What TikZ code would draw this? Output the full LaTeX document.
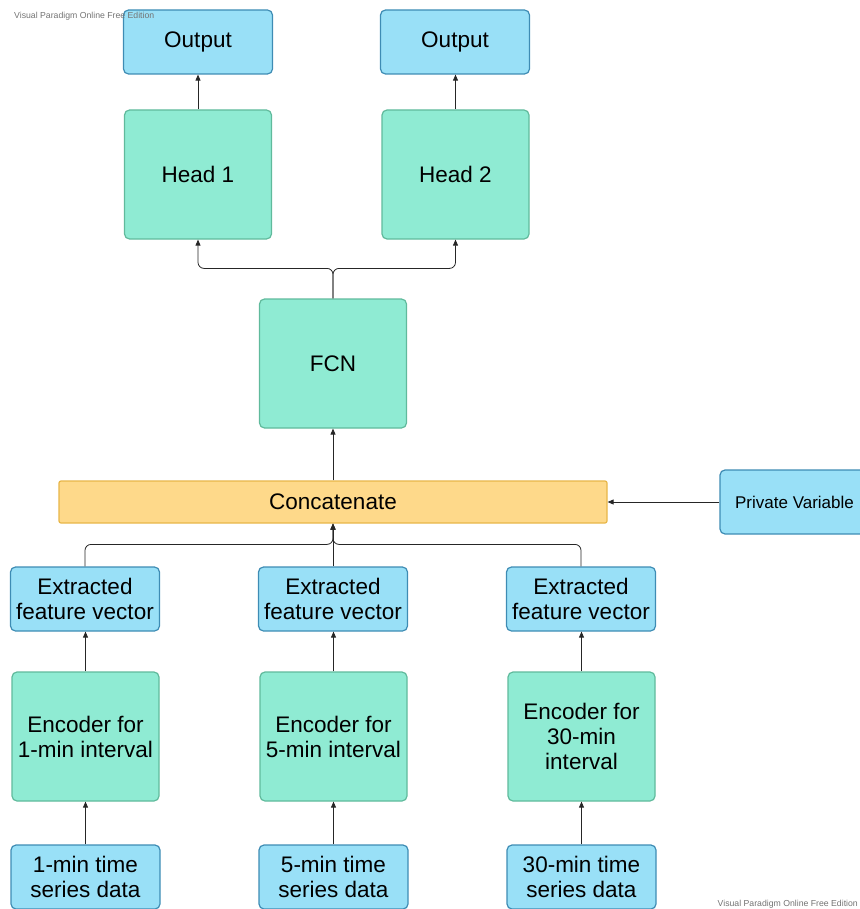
\documentclass[tikz,border=0pt]{standalone}
\usepackage{fontspec}
\setmainfont{Liberation Sans}
\usetikzlibrary{arrows.meta}

\definecolor{boxblue}{RGB}{153,224,247}
\definecolor{lineblue}{RGB}{62,140,180}
\definecolor{boxgreen}{RGB}{143,235,211}
\definecolor{linegreen}{RGB}{96,186,156}
\definecolor{boxyellow}{RGB}{254,217,138}
\definecolor{lineyellow}{RGB}{232,182,72}

\begin{document}
\begin{tikzpicture}[
  x=1pt,
  y=-1pt,
  base/.style={rounded corners=5pt, line width=1.2pt, align=center, inner sep=0pt, font=\fontsize{22.5}{25}\selectfont},
  io/.style={base, fill=boxblue, draw=lineblue, minimum width=149pt, minimum height=64pt},
  block/.style={base, fill=boxgreen, draw=linegreen, minimum width=147pt, minimum height=129pt},
  joinbox/.style={base, rounded corners=2pt, fill=boxyellow, draw=lineyellow, minimum width=548pt, minimum height=42pt},
  link/.style={draw=black!85, line width=0.8pt, -{Triangle[length=6pt,width=5pt]}},
  fork/.style={link, rounded corners=6pt},
  watermark/.style={font=\fontsize{8.7}{10}\selectfont, text=black!55, inner sep=0pt}
]
\useasboundingbox (0,0) rectangle (859,909);

% top: outputs and heads
\node[io] (out1) at (198,42) {Output};
\node[io] (out2) at (455,42) {Output};
\node[block] (head1) at (198,174.5) {Head 1};
\node[block] (head2) at (455.5,174.5) {Head 2};
\node[block] (fcn) at (333,363.5) {FCN};

% middle
\node[joinbox] (concat) at (333,502) {Concatenate};
\node[io, font=\fontsize{17}{20}\selectfont] (priv) at (794.5,502) {Private Variable};

% three input branches
\node[io] (feat1) at (85,599) {Extracted\\feature vector};
\node[io] (feat2) at (333,599) {Extracted\\feature vector};
\node[io] (feat3) at (581,599) {Extracted\\feature vector};
\node[block] (enc1) at (85.5,736.5) {Encoder for\\1-min interval};
\node[block] (enc2) at (333.5,736.5) {Encoder for\\5-min interval};
\node[block] (enc3) at (581.5,736.5) {Encoder for\\30-min\\interval};
\node[io] (data1) at (85.5,877) {1-min time\\series data};
\node[io] (data2) at (333.5,877) {5-min time\\series data};
\node[io] (data3) at (581.5,877) {30-min time\\series data};

% connectors
\draw[link] (head1.north) -- (head1.north |- out1.south);
\draw[link] (head2.north) -- (head2.north |- out2.south);
\draw[fork] (fcn.north) -- ++(0,-30) -| (head1.south);
\draw[fork] (fcn.north) -- ++(0,-30) -| (head2.south);
\draw[link] (fcn.south |- concat.north) -- (fcn.south);
\draw[link] (priv.west) -- (concat.east);
\draw[fork] (feat1.north) -- ++(0,-22) -| (concat.south);
\draw[fork] (feat3.north) -- ++(0,-22) -| (concat.south);
\draw[link] (feat2.north) -- (concat.south);
\draw[link] (enc1.north) -- (enc1.north |- feat1.south);
\draw[link] (enc2.north) -- (enc2.north |- feat2.south);
\draw[link] (enc3.north) -- (enc3.north |- feat3.south);
\draw[link] (data1.north) -- (enc1.south);
\draw[link] (data2.north) -- (enc2.south);
\draw[link] (data3.north) -- (enc3.south);

% watermarks
\node[watermark, anchor=west] (wm1) at (14,16) {Visual Paradigm Online Free Edition};
\node[watermark, anchor=east] (wm2) at (858,904) {Visual Paradigm Online Free Edition};
\end{tikzpicture}
\end{document}
